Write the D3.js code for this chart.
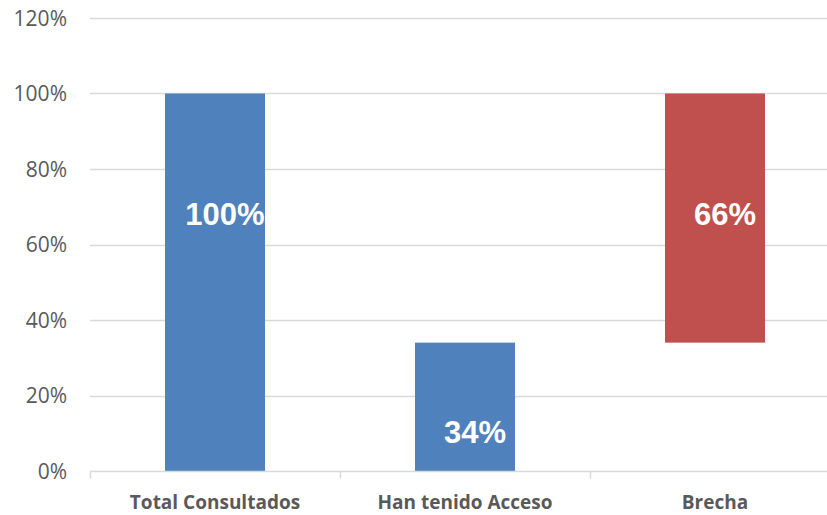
<!DOCTYPE html>
<html>
<head>
<meta charset="utf-8">
<script src="https://cdn.jsdelivr.net/npm/d3@7"></script>
<style>
  body { margin: 0; background: #fff; }
  svg { display: block; }
</style>
</head>
<body>
<div id="chart"></div>
<script>
// chart data
const categories = ["Total Consultados", "Han tenido Acceso", "Brecha"];
const barStart = [0, 0, 34];
const barEnd = [100, 34, 100];
const labels = ["100%", "34%", "66%"];
const barColors = ["#4F81BD", "#4F81BD", "#C0504D"];
const yTicks = [0, 20, 40, 60, 80, 100, 120];
// where each data label sits, in axis units
const labelAt = [68, 10.5, 68];

const width = 827, height = 515;
const margin = {top: 18, right: -13, bottom: 44, left: 90};

const svg = d3.select("#chart").append("svg")
  .attr("width", width)
  .attr("height", height);

const x = d3.scaleBand()
  .domain(categories)
  .range([margin.left, width - margin.right])
  .paddingInner(0.6)
  .paddingOuter(0.3);

const y = d3.scaleLinear()
  .domain([0, 120])
  .range([height - margin.bottom, margin.top]);

// gridlines
svg.append("g")
  .selectAll("line")
  .data(yTicks.filter(d => d > 0))
  .enter().append("line")
  .attr("x1", margin.left)
  .attr("x2", width)
  .attr("y1", d => Math.round(y(d)) + 0.5)
  .attr("y2", d => Math.round(y(d)) + 0.5)
  .attr("stroke", "#D9D9D9")
  .attr("stroke-width", 1.5);

// y tick labels
svg.append("g")
  .selectAll("text")
  .data(yTicks)
  .enter().append("text")
  .attr("x", 67)
  .attr("y", d => y(d))
  .attr("dy", "0.36em")
  .attr("text-anchor", "end")
  .attr("font-family", "'Open Sans', sans-serif")
  .attr("font-size", 21)
  .attr("fill", "#595959")
  .text(d => d + "%");

// bars
const idx = d3.range(categories.length);
svg.append("g")
  .selectAll("rect")
  .data(idx)
  .enter().append("rect")
  .attr("x", i => x(categories[i]))
  .attr("width", x.bandwidth())
  .attr("y", i => y(barEnd[i]))
  .attr("height", i => y(barStart[i]) - y(barEnd[i]))
  .attr("fill", i => barColors[i]);

// x axis line + ticks
const base = Math.round(y(0)) + 0.5;
svg.append("line")
  .attr("x1", margin.left)
  .attr("x2", width)
  .attr("y1", base)
  .attr("y2", base)
  .attr("stroke", "#D9D9D9")
  .attr("stroke-width", 1.5);

svg.append("g")
  .selectAll("line")
  .data(categories)
  .enter().append("line")
  .attr("x1", d => Math.round(x(d) - (x.step() - x.bandwidth()) / 2) + 0.5)
  .attr("x2", d => Math.round(x(d) - (x.step() - x.bandwidth()) / 2) + 0.5)
  .attr("y1", base)
  .attr("y2", base + 7)
  .attr("stroke", "#D9D9D9")
  .attr("stroke-width", 1.5);

// category labels
svg.append("g")
  .selectAll("text")
  .data(categories)
  .enter().append("text")
  .attr("x", d => x(d) + x.bandwidth() / 2)
  .attr("y", 509)
  .attr("text-anchor", "middle")
  .attr("font-family", "'Open Sans', sans-serif")
  .attr("font-weight", "bold")
  .attr("font-size", 19)
  .attr("fill", "#595959")
  .text(d => d);

// data labels
svg.append("g")
  .selectAll("text")
  .data(idx)
  .enter().append("text")
  .attr("x", i => x(categories[i]) + x.bandwidth() / 2 + 10)
  .attr("y", i => y(labelAt[i]))
  .attr("dy", "0.36em")
  .attr("text-anchor", "middle")
  .attr("font-family", "'Liberation Sans', Arial, sans-serif")
  .attr("font-weight", "bold")
  .attr("font-size", 31)
  .attr("fill", "#fff")
  .text(i => labels[i]);
</script>
</body>
</html>
